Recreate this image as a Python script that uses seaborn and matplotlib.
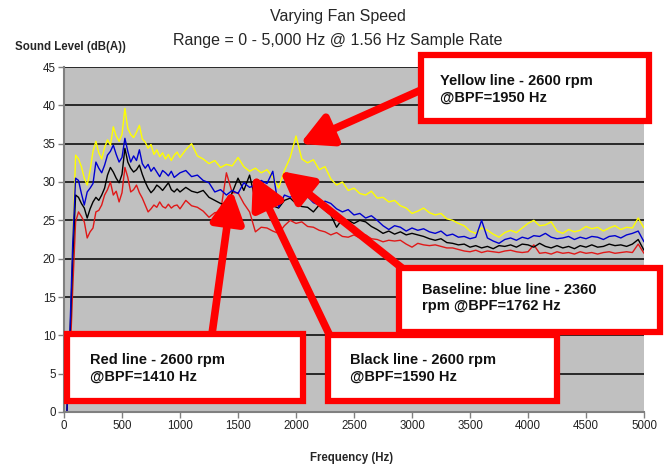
import numpy as np
import pandas as pd
import matplotlib
matplotlib.use('Agg')
import matplotlib.pyplot as plt
import seaborn as sns
from matplotlib.patches import Rectangle, FancyArrowPatch

# Frequency axis (Hz)
freq = list(range(25, 1001, 25)) + list(range(1050, 5001, 50))

yellow = [0, 8, 22, 33.5, 33, 32, 30.5, 29.6, 31.5, 34,
          35.3, 33.8, 33, 34.5, 35.5, 34.8, 37.2, 36, 35.3, 36.2,
          39.6, 37, 36.2, 35.8, 36.5, 37.4, 35.6, 35.2, 34.4, 34.9,
          33.6, 34.2, 33.3, 33.8, 33, 33.6, 32.8, 33.5, 33.9, 33.2,
          34.2, 35.0, 33.4, 33.0, 32.4, 32.8, 31.9, 32.3, 32.1, 33.2,
          32.0, 31.4, 31.8, 31.2, 31.6, 30.6, 29.2, 31.5, 33.2, 36.0,
          33.0, 32.5, 32.9, 31.6, 32.0, 30.4, 29.6, 30.0, 28.9, 29.2,
          28.5, 28.3, 28.8, 27.9, 28.0, 27.4, 27.6, 26.9, 26.6, 25.9,
          26.2, 26.6, 26.0, 25.7, 25.9, 25.2, 25.0, 24.6, 24.3, 23.6,
          23.3, 24.0, 23.7, 23.2, 22.8, 23.4, 23.7, 23.4, 24.0, 24.6,
          25.0, 24.3, 24.4, 24.8, 23.6, 23.3, 23.8, 23.5, 23.7, 24.2,
          23.9, 24.1, 23.6, 24.0, 24.3, 23.8, 24.1, 24.0, 25.3, 24.0]

blue = [0, 10, 22, 30.5, 30.2, 28.5, 27, 28.7, 29.2, 29.8,
        32.6, 31.8, 31.2, 32.2, 33.5, 34.0, 34.8, 33.6, 32.6, 33.2,
        35.7, 34.0, 32.6, 33.4, 32.8, 34.2, 32.4, 31.8, 32.3, 31.4,
        31.9, 31.3, 30.7, 31.5, 31.2, 30.8, 31.4, 30.6, 30.9, 31.2,
        31.5, 30.7, 30.9, 30.2, 29.9, 28.7, 29.0, 28.3, 28.9, 28.5,
        29.9, 29.3, 29.6, 30.2, 29.8, 31.4, 26.7, 28.3, 28.0, 28.5,
        27.8, 28.1, 27.3, 27.0, 27.5, 27.2, 26.5, 26.1, 26.4, 25.7,
        25.9, 25.3, 25.6, 25.0, 24.3, 23.8, 24.3, 24.1, 23.6, 24.0,
        23.7, 23.9, 23.5, 23.3, 23.6, 23.0, 23.2, 22.8, 22.9, 22.6,
        22.8, 25.0, 22.7, 22.3, 22.0, 22.5, 22.7, 22.4, 22.8, 22.6,
        23.0, 22.9, 23.3, 22.8, 22.6, 22.7, 22.9, 22.5, 22.8, 22.6,
        22.9, 22.8, 22.5, 22.9, 23.0, 22.7, 23.1, 23.3, 23.6, 22.2]

black = [0, 9, 20, 28.3, 28.0, 27.2, 26.6, 25.3, 26.5, 27.4,
         28.0, 27.6, 28.3, 29.2, 30.9, 31.9, 31.3, 30.5, 29.9, 31.0,
         34.4, 32.6, 31.8, 31.3, 31.6, 32.2, 31.0, 30.0, 29.2, 28.6,
         29.0, 29.6, 29.3, 28.9, 29.4, 29.9, 29.0, 28.7, 29.1, 28.7,
         29.3, 28.8, 28.6, 28.9, 28.0, 27.6, 27.2, 27.0, 28.6, 30.5,
         28.9, 30.9, 27.6, 28.3, 26.3, 26.9, 26.6, 27.6, 27.9, 27.2,
         26.8, 26.7, 26.1, 27.0, 26.3, 25.7, 24.1, 25.2, 25.0, 24.6,
         25.0, 24.8, 24.2, 23.8, 23.3, 23.6, 23.2, 23.5, 23.1, 23.3,
         23.1, 22.9, 22.6, 22.4, 22.6, 22.1, 22.0, 21.8, 21.9, 21.5,
         21.7, 21.4, 21.6, 21.3, 21.7, 21.6, 21.8, 21.5, 21.9, 21.8,
         21.5, 22.0, 21.6, 21.4, 21.7, 21.4, 21.6, 21.3, 21.7, 21.5,
         21.8, 21.5, 21.6, 21.9, 21.7, 21.8, 21.6, 21.9, 22.5, 21.1]

red = [0, 6, 16, 24.8, 26.1, 25.5, 24.8, 22.7, 23.5, 24.0,
       26.1, 26.3, 27.0, 28.3, 29.0, 30.0, 28.3, 28.8, 27.4, 28.6,
       31.9, 30.6, 28.7, 29.0, 29.6, 28.6, 27.9, 27.0, 26.1, 26.5,
       27.0, 26.7, 27.4, 26.8, 26.6, 27.1, 26.6, 26.9, 27.0, 26.5,
       27.6, 26.9, 26.7, 26.2, 25.4, 26.0, 26.1, 31.2, 28.6, 28.6,
       27.2, 26.1, 23.5, 24.1, 24.0, 23.6, 23.3, 24.3, 25.0, 24.6,
       24.8, 24.2, 24.1, 23.7, 23.5, 23.1, 23.4, 22.9, 22.8, 23.1,
       22.7, 23.1, 22.6, 22.5, 22.2, 22.4, 22.3, 22.4, 21.9, 21.5,
       22.0, 21.8, 21.7, 21.8, 21.6, 21.4, 21.4, 21.2, 21.0, 20.9,
       21.1, 20.8, 21.0, 20.9, 20.8, 21.0, 21.1, 20.9, 20.8, 20.9,
       21.8, 20.7, 20.8, 20.6, 20.9, 20.7, 20.8, 20.6, 20.9, 20.7,
       20.8, 20.6, 20.8, 20.9, 20.7, 20.8, 20.9, 20.8, 21.9, 20.7]

x_ticks = list(range(0, 5001, 500))
y_ticks = list(range(0, 46, 5))

series = {'Yellow': yellow, 'Red': red, 'Black': black, 'Blue': blue}
palette = {'Yellow': '#FFFF00', 'Red': '#E01818', 'Black': '#000000', 'Blue': '#0000D0'}

sns.set_theme(style='white')
plt.rcParams['font.family'] = ['Liberation Sans', 'DejaVu Sans']

W, H = 670, 470
fig = plt.figure(figsize=(6.7, 4.7), dpi=100)
fig.patch.set_facecolor('white')
ax = fig.add_axes([64 / W, 1 - 412 / H, 580 / W, 345 / H])
ax.set_facecolor('#C0C0C0')

df = pd.concat([pd.DataFrame({'Frequency': freq, 'Level': vals, 'Series': name})
                for name, vals in series.items()], ignore_index=True)
sns.lineplot(data=df, x='Frequency', y='Level', hue='Series', palette=palette,
             estimator=None, sort=False, linewidth=1.0, legend=False, ax=ax)

ax.set_xlim(0, 5000)
ax.set_ylim(0, 45)
ax.set_xticks(x_ticks)
ax.set_yticks(y_ticks)
ax.set_axisbelow(True)
ax.yaxis.grid(True, color='black', linewidth=1.1)
ax.xaxis.grid(False)
for s in ['top', 'right']:
    ax.spines[s].set_visible(False)
for s in ['left', 'bottom']:
    ax.spines[s].set_color('#808080')
    ax.spines[s].set_linewidth(1.5)
ax.tick_params(axis='both', which='both', bottom=True, left=True, direction='out',
               length=4, width=1, color='#808080', labelsize=8.3, labelcolor='#222222', pad=2)
ax.set_xlabel('')
ax.set_ylabel('')

def fx(px):
    return px / W

def fy(py):
    return 1 - py / H

fig.text(fx(338), fy(17), 'Varying Fan Speed', ha='center', va='center', fontsize=11.5)
fig.text(fx(338), fy(40), 'Range = 0 - 5,000 Hz @ 1.56 Hz Sample Rate', ha='center', va='center', fontsize=11.5)
fig.text(fx(15), fy(47), 'Sound Level (dB(A))', ha='left', va='center', fontsize=8.3, fontweight='bold')
fig.text(fx(352), fy(458), 'Frequency (Hz)', ha='center', va='center', fontsize=8.3, fontweight='bold')

RED = '#FF0000'

def arrow(tail, tip):
    fig.add_artist(FancyArrowPatch(posA=(fx(tail[0]), fy(tail[1])), posB=(fx(tip[0]), fy(tip[1])),
                                   transform=fig.transFigure,
                                   arrowstyle='-|>,head_length=0.95,head_width=0.5',
                                   mutation_scale=20, lw=5.5, color=RED, zorder=4,
                                   shrinkA=0, shrinkB=0))

def box(x0, y0, x1, y1, text, tx, ty):
    fig.add_artist(Rectangle((fx(x0), fy(y1)), (x1 - x0) / W, (y1 - y0) / H,
                             transform=fig.transFigure, facecolor='white',
                             edgecolor=RED, lw=4.5, zorder=5))
    fig.text(fx(tx), fy(ty), text, ha='left', va='center', fontsize=10.5,
             fontweight='bold', linespacing=1.25, zorder=6, color='#111111')

arrow((430, 86), (300, 144))
arrow((402, 268), (280, 171))
arrow((330, 336), (253, 175))
arrow((212, 334), (232, 190))

box(421, 55, 649, 121, 'Yellow line - 2600 rpm\n@BPF=1950 Hz', 440, 89)
box(399, 268, 660, 332, 'Baseline: blue line - 2360\nrpm @BPF=1762 Hz', 422, 298)
box(67, 334, 303, 401, 'Red line - 2600 rpm\n@BPF=1410 Hz', 90, 368)
box(328, 335, 557, 401, 'Black line - 2600 rpm\n@BPF=1590 Hz', 350, 368)

fig.savefig('out.png', dpi=100, facecolor='white')
